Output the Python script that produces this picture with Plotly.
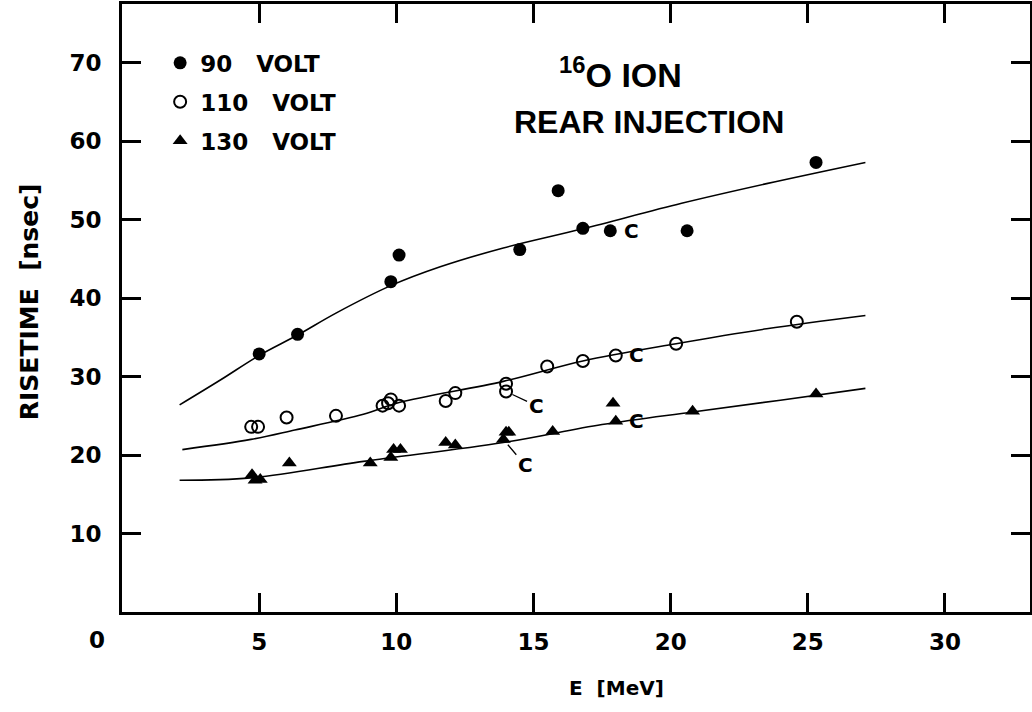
import plotly.graph_objects as go

# ---- data ----
e_90 = [5.0, 6.4, 9.8, 10.1, 14.5, 15.9, 16.8, 17.8, 20.6, 25.3]
t_90 = [32.9, 35.4, 42.1, 45.5, 46.2, 53.7, 48.9, 48.6, 48.6, 57.3]

e_110 = [4.71, 4.96, 6.0, 7.8, 9.5, 9.7, 9.8, 10.1, 11.8, 12.15, 14.0, 14.0, 15.5, 16.8, 18.0, 20.2, 24.6]
t_110 = [23.6, 23.6, 24.8, 25.0, 26.3, 26.6, 27.1, 26.3, 26.9, 27.9, 28.1, 29.1, 31.3, 32.0, 32.7, 34.2, 37.0]

e_130 = [4.74, 4.85, 5.04, 6.1, 9.05, 9.8, 9.9, 10.15, 11.8, 12.15, 13.9, 14.0, 14.1, 15.7, 17.9, 18.0, 20.8, 25.3]
t_130 = [17.5, 16.8, 16.9, 19.0, 19.0, 19.7, 20.7, 20.7, 21.6, 21.3, 22.0, 22.9, 22.9, 23.0, 26.6, 24.3, 25.6, 27.8]

# fitted curves
fit90_e = [2.1, 3.6, 5.0, 6.4, 7.8, 9.8, 11.6, 13.9, 16.8, 20.4, 23.5, 27.1]
fit90_t = [26.4, 29.6, 32.7, 35.3, 38.1, 41.6, 44.0, 46.4, 48.85, 52.1, 54.6, 57.3]

fit110_e = [2.2, 4.7, 6.3, 8.8, 10.1, 13.9, 16.8, 20.2, 23.5, 27.1]
fit110_t = [20.7, 22.0, 23.2, 25.2, 26.7, 29.4, 32.0, 34.2, 36.1, 37.8]

fit130_e = [2.1, 4.7, 8.8, 13.9, 17.5, 20.8, 24.0, 27.1]
fit130_t = [16.8, 17.1, 19.2, 21.6, 23.9, 25.5, 27.0, 28.5]

# "C" markers: (E, t) of labelled points
c_plain = [(17.8, 48.6), (18.0, 32.7), (18.0, 24.3)]
c_leader = [(14.0, 28.1, 30, 14), (13.9, 22.0, 22, 26)]

x_ticks = [5, 10, 15, 20, 25, 30]
y_ticks = [10, 20, 30, 40, 50, 60, 70]

TICKFONT = dict(family="DejaVu Sans", size=23, color="black", weight="bold")
fig = go.Figure()

for xs, ys in [(fit90_e, fit90_t), (fit110_e, fit110_t), (fit130_e, fit130_t)]:
    fig.add_trace(go.Scatter(x=xs, y=ys, mode="lines", showlegend=False,
                             line=dict(color="black", width=1.6, shape="spline", smoothing=1.0),
                             hoverinfo="skip"))

fig.add_trace(go.Scatter(x=e_90, y=t_90, mode="markers", name="90\u00a0\u00a0\u00a0VOLT", legendgroup="a",
                         marker=dict(symbol="circle", size=13, color="black")))
fig.add_trace(go.Scatter(x=e_110, y=t_110, mode="markers", name="110\u00a0\u00a0\u00a0VOLT", legendgroup="b",
                         marker=dict(symbol="circle-open", size=12, color="black", line=dict(width=2))))
fig.add_trace(go.Scatter(x=e_130, y=t_130, mode="markers", name="130\u00a0\u00a0\u00a0VOLT", legendgroup="c",
                         marker=dict(symbol="triangle-up", size=13, color="black")))

ann = []
for (xe, yt) in c_plain:
    ann.append(dict(x=xe, y=yt, xref="x", yref="y", text="C", showarrow=False,
                    xshift=21, font=dict(family="DejaVu Sans", size=20, color="black", weight="bold")))
for (xe, yt, dx, dy) in c_leader:
    ann.append(dict(x=xe, y=yt, xref="x", yref="y", text="C", showarrow=True,
                    arrowhead=0, arrowwidth=1.3, arrowcolor="black", ax=dx, ay=dy, standoff=7,
                    font=dict(family="DejaVu Sans", size=20, color="black", weight="bold")))

def centered(**kw):
    d = dict(xref="paper", yref="paper", showarrow=False, xanchor="center", yanchor="middle")
    d.update(kw)
    return d

ann += [
    centered(x=0.549, y=0.888, text="<sup>16</sup>O ION",
             font=dict(family="Liberation Sans", size=34, color="black", weight="bold")),
    centered(x=0.580, y=0.806, text="REAR INJECTION",
             font=dict(family="Liberation Sans", size=32, color="black", weight="bold")),
    centered(x=0.545, y=-0.125, text="E\u00a0\u00a0[MeV]",
             font=dict(family="DejaVu Sans", size=20, color="black", weight="bold")),
    centered(x=-0.101, y=0.51, textangle=-90, text="RISETIME\u00a0\u00a0[nsec]",
             font=dict(family="DejaVu Sans", size=25, color="black", weight="bold")),
    centered(x=-0.0275, y=-0.046, text="0", font=TICKFONT),
]

fig.update_layout(
    width=1032, height=712,
    margin=dict(l=122, r=2, t=4, b=100),
    paper_bgcolor="white", plot_bgcolor="white",
    showlegend=True,
    legend=dict(x=0.042, y=0.9385, xanchor="left", yanchor="top", bgcolor="rgba(0,0,0,0)",
                font=dict(family="DejaVu Sans", size=23, color="black", weight="bold"),
                tracegroupgap=6, traceorder="grouped"),
    annotations=ann,
)
fig.update_xaxes(range=[0, 33.1], tickvals=x_ticks, ticks="inside", ticklen=19, tickwidth=3,
                 tickcolor="black", showline=True, linewidth=3, linecolor="black", mirror="ticks",
                 showgrid=False, zeroline=False, tickfont=TICKFONT, ticklabelstandoff=7,
                 automargin=False)
fig.update_yaxes(range=[0, 77.5], tickvals=y_ticks, ticks="inside", ticklen=19, tickwidth=3,
                 tickcolor="black", showline=True, linewidth=3, linecolor="black", mirror="ticks",
                 showgrid=False, zeroline=False, tickfont=TICKFONT, ticklabelstandoff=13,
                 automargin=False)

fig.write_html("out.html", config={"displayModeBar": False},
               post_script="document.body.style.margin='0px';")
